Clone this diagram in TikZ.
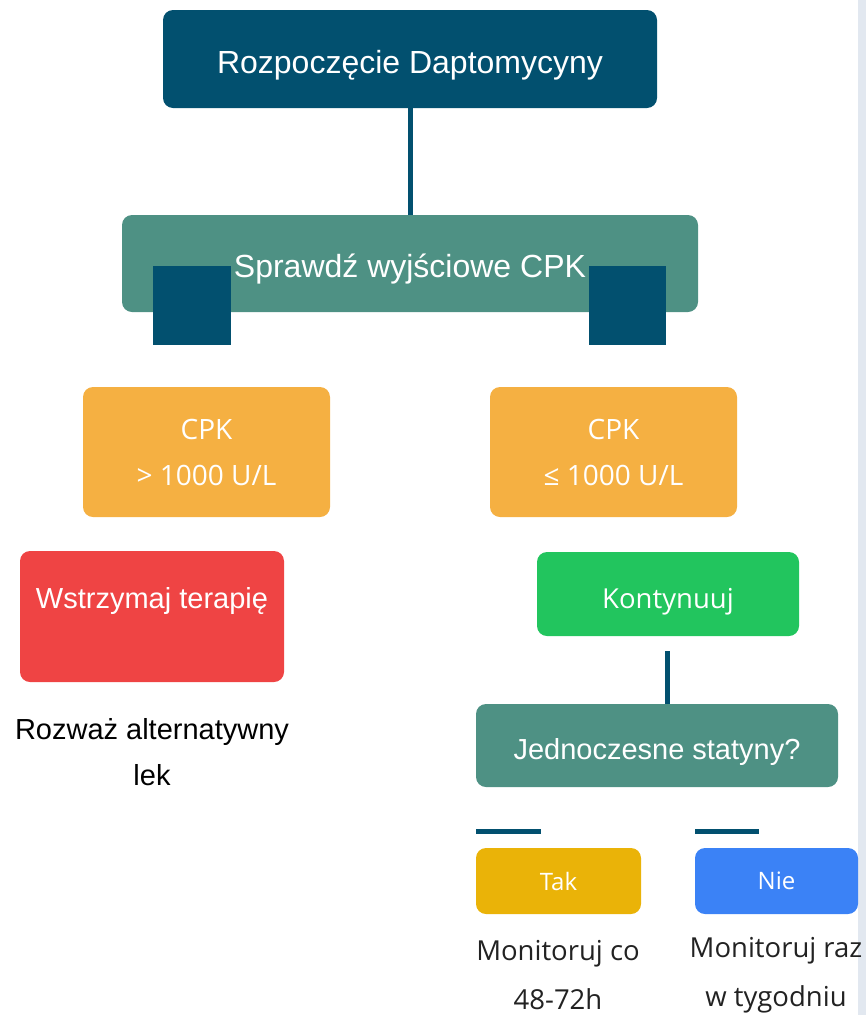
\documentclass[tikz,border=0pt]{standalone}
\usepackage{fontspec}
\setmainfont{Liberation Sans}
\newfontfamily\segoe{Open Sans}
\usetikzlibrary{positioning}

\definecolor{darkblue}{HTML}{02506F}
\definecolor{tealgreen}{HTML}{4E9184}
\definecolor{cpkorange}{HTML}{F5B042}
\definecolor{stopred}{HTML}{EF4444}
\definecolor{gogreen}{HTML}{22C55E}
\definecolor{takyellow}{HTML}{EAB308}
\definecolor{nieblue}{HTML}{3B82F6}
\definecolor{edgegray}{HTML}{E2E8F0}
\definecolor{notedark}{HTML}{222222}

\tikzset{
  box/.style={rectangle, rounded corners=10pt, inner sep=0pt, text=white, align=center},
  lowtext/.style={text height=28pt, text depth=0pt},
  link/.style={darkblue, line width=5pt},
  note/.style={align=center, inner sep=0pt},
}

\begin{document}
\begin{tikzpicture}[x=1pt,y=1pt]
             \useasboundingbox (0,0) rectangle (866,-1015);
             \fill[edgegray] (858,0) rectangle (866,-1015);

             \node[box, lowtext, fill=darkblue, minimum width=494pt, minimum height=98pt, font=\fontsize{32}{38}\selectfont] (start) at (410,-59) {Rozpoczęcie Daptomycyny};
             \node[box, lowtext, fill=tealgreen, minimum width=576pt, minimum height=97pt, font=\fontsize{32}{38}\selectfont] (check) at (410,-263.5) {Sprawdź wyjściowe CPK};
             \draw[link] (start.south) -- (check.north);

             \fill[darkblue] (153,-266) rectangle (231,-345);
             \fill[darkblue] (589,-266) rectangle (666,-345);

             \node[box, fill=cpkorange, minimum width=247pt, minimum height=130pt, font=\segoe\fontsize{28}{46}\selectfont] (high) at (206.5,-452) {CPK\\> 1000 U/L};
             \node[box, fill=cpkorange, minimum width=247pt, minimum height=130pt, font=\segoe\fontsize{28}{46}\selectfont] (low) at (613.5,-452) {CPK\\≤ 1000 U/L};

             \node[box, fill=stopred, minimum width=264pt, minimum height=131pt,
                   label={[white, font=\fontsize{29}{35}\selectfont, anchor=center, yshift=-50pt]north:Wstrzymaj terapię}] (stop) at (152,-616.5) {};
             \node[note, font=\fontsize{29}{46}\selectfont] (alt) at (152,-752) {Rozważ alternatywny\\lek};

             \node[box, lowtext, fill=gogreen, minimum width=262pt, minimum height=84pt, font=\segoe\fontsize{27.5}{33}\selectfont] (cont) at (668,-594) {Kontynuuj};
             \node[box, lowtext, fill=tealgreen, minimum width=362pt, minimum height=83pt, font=\fontsize{29}{35}\selectfont] (statins) at (657,-745.5) {Jednoczesne statyny?};
             \coordinate (contend) at (667,-651);
             \draw[link] (contend) -- (contend |- statins.north);

             \node[box, fill=takyellow, minimum width=165pt, minimum height=66pt, font=\segoe\fontsize{24}{29}\selectfont] (tak) at (558.5,-881) {Tak};
             \node[box, fill=nieblue, minimum width=163pt, minimum height=66pt, font=\segoe\fontsize{24}{29}\selectfont] (nie) at (776.5,-881) {Nie};
             \coordinate (takbarL) at (476,-831);
             \coordinate (takbarR) at (541,-831);
             \coordinate (niebarL) at (695,-831);
             \coordinate (niebarR) at (759,-831);
             \draw[link] (takbarL) -- (takbarR);
             \draw[link] (niebarL) -- (niebarR);

             \node[note, text=notedark, font=\segoe\fontsize{27.5}{49}\selectfont] (taknote) at (558,-975) {Monitoruj co\\48-72h};
             \node[note, text=notedark, font=\segoe\fontsize{27.5}{49}\selectfont] (nienote) at (776,-975) {Monitoruj raz\\w tygodniu};
         \end{tikzpicture}
\end{document}
